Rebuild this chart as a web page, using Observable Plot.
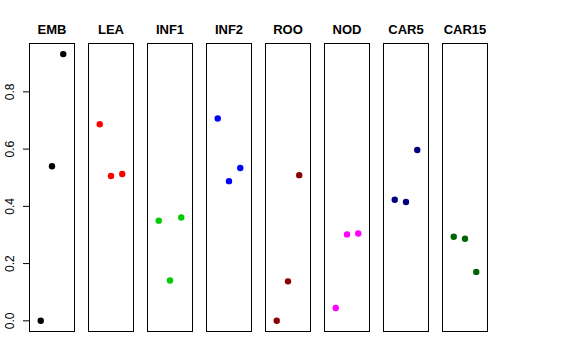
<!DOCTYPE html>
<html>
<head>
<meta charset="utf-8">
<script src="https://cdn.jsdelivr.net/npm/d3@7"></script>
<script src="https://cdn.jsdelivr.net/npm/@observablehq/plot@0.6"></script>
<style>
  body { margin: 0; background: #fff; }
</style>
</head>
<body>
<div id="chart"></div>
<script>
const tissues = ["EMB", "LEA", "INF1", "INF2", "ROO", "NOD", "CAR5", "CAR15"];
const colors  = ["#000000", "#ff0000", "#00cd00", "#0000ff", "#8b0000", "#ff00ff", "#000080", "#006400"];
const rep1 = [0.000, 0.687, 0.350, 0.707, 0.000, 0.045, 0.423, 0.294];
const rep2 = [0.540, 0.506, 0.141, 0.488, 0.138, 0.302, 0.415, 0.287];
const rep3 = [0.932, 0.513, 0.361, 0.534, 0.509, 0.305, 0.597, 0.171];
const yTicks = [0, 0.2, 0.4, 0.6, 0.8];

const data = [];
tissues.forEach((t, i) => {
  [rep1, rep2, rep3].forEach((rep, j) => data.push({tissue: t, rep: j + 1, value: rep[i]}));
});

const chart = Plot.plot({
  width: 576,
  height: 360,
  marginLeft: 29,
  marginRight: 88,
  marginTop: 43,
  marginBottom: 29,
  style: {fontFamily: "Liberation Sans, Arial, sans-serif", color: "#000", background: "#fff"},
  fx: {domain: tissues, paddingInner: 0.237, paddingOuter: 0, label: null},
  x: {domain: [0, 4], axis: null},
  y: {domain: [-0.0373, 0.969], label: null},
  color: {domain: tissues, range: colors},
  marks: [
    Plot.frame({stroke: "#000", strokeWidth: 1}),
    Plot.axisFx({anchor: "top", tickSize: 0, tickPadding: 10, fontSize: 13, fontWeight: "bold", label: null}),
    Plot.axisY({ticks: yTicks, tickFormat: d3.format(".1f"), tickSize: 6, tickPadding: 10,
                tickRotate: -90, textAnchor: "middle", fontSize: 12, label: null, stroke: "#000"}),
    Plot.dot(data, {fx: "tissue", x: "rep", y: "value", r: 3.2, fill: "tissue", stroke: null})
  ]
});
document.getElementById("chart").appendChild(chart);
</script>
</body>
</html>
